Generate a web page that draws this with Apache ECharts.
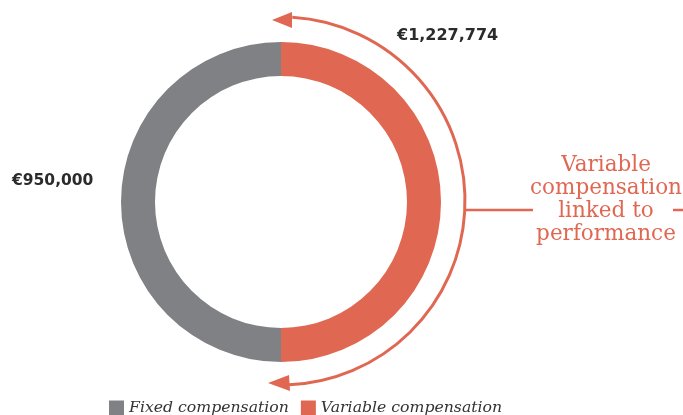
<!DOCTYPE html>
<html>
<head>
<meta charset="utf-8">
<script src="https://cdn.jsdelivr.net/npm/echarts@6/dist/echarts.min.js"></script>
<style>
  html, body { margin: 0; padding: 0; background: #fff; }
  #chart { width: 683px; height: 415px; }
</style>
</head>
<body>
<div id="chart"></div>
<script>
// names, in the order they go round the ring (clockwise from 12 o'clock)
const categories = ['Variable compensation', 'Fixed compensation'];
// amounts printed next to the ring
const amounts = [1227774, 950000];
// share of the ring each slice takes in the picture (drawn as two halves)
const shares = [50, 50];
const legendOrder = ['Fixed compensation', 'Variable compensation'];
const noteLines = ['Variable', 'compensation', 'linked to', 'performance'];

const RED = '#E06752';
const GREY = '#808185';

const fmt = v => '€' + v.toLocaleString('en-US');

const chart = echarts.init(document.getElementById('chart'));

const cx = 281, cy = 201, r = 184;
const deg = a => a * Math.PI / 180;

const option = {
    animation: false,
    legend: {
        data: legendOrder,
        left: 109,
        top: 400,
        padding: 0,
        icon: 'rect',
        itemWidth: 15,
        itemHeight: 15,
        itemGap: 12,
        textStyle: {
            fontFamily: 'DejaVu Serif',
            fontStyle: 'italic',
            fontSize: 15.7,
            color: '#333'
        }
    },
    series: [
        {
            type: 'pie',
            center: [281, 202],
            radius: [126, 160],
            startAngle: 90,
            clockwise: true,
            silent: true,
            label: { show: false },
            labelLine: { show: false },
            itemStyle: { borderWidth: 0 },
            data: categories.map((name, i) => ({
                name: name,
                value: shares[i],
                itemStyle: { color: name.startsWith('Fixed') ? GREY : RED }
            }))
        }
    ],
    graphic: [
        // amount labels
        {
            type: 'text', left: 397, top: 28,
            style: { text: fmt(amounts[0]), font: 'bold 16px "DejaVu Sans"', fill: '#2b2b2b' }
        },
        {
            type: 'text', left: 12, top: 173,
            style: { text: fmt(amounts[1]), font: 'bold 15.5px "DejaVu Sans"', fill: '#2b2b2b' }
        },
        // bracket arc with arrows
        {
            type: 'arc',
            shape: { cx: cx, cy: cy, r: r, startAngle: deg(-86.5), endAngle: deg(87.5), clockwise: true },
            style: { stroke: RED, lineWidth: 3, fill: null }
        },
        {
            type: 'polygon',
            shape: { points: [[272, 20], [292, 12], [292, 28]] },
            style: { fill: RED }
        },
        {
            type: 'polygon',
            shape: { points: [[268, 383], [289, 375], [290, 391]] },
            style: { fill: RED }
        },
        // connector to the note
        {
            type: 'line',
            shape: { x1: cx + r, y1: 210, x2: 533, y2: 210 },
            style: { stroke: RED, lineWidth: 2.5 }
        },
        {
            type: 'line',
            shape: { x1: 673, y1: 210, x2: 683, y2: 210 },
            style: { stroke: RED, lineWidth: 2.5 }
        },
        {
            type: 'text', x: 606, y: 154,
            style: {
                text: noteLines.join('\n'),
                font: '21.5px "DejaVu Serif"',
                lineHeight: 23,
                fill: RED,
                align: 'center'
            }
        }
    ]
};

chart.setOption(option);
</script>
</body>
</html>
